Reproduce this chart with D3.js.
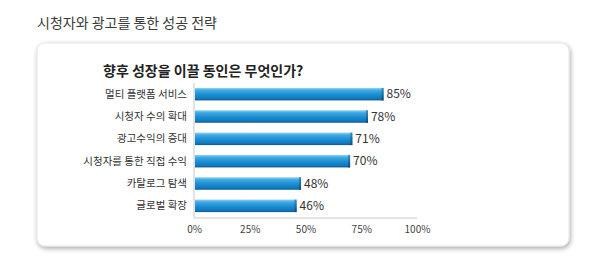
<!DOCTYPE html>
<html><head><meta charset="utf-8">
<script src="https://cdn.jsdelivr.net/npm/d3@7"></script>
<style>
html,body{margin:0;padding:0;background:#fff;}
svg{display:block;}
text{font-family:"Noto Sans CJK KR","Noto Sans",sans-serif;}
</style></head>
<body>
<svg id="chart" width="600" height="270"></svg>
<script>
const categories = ["멀티 플랫폼 서비스","시청자 수의 확대","광고수익의 증대","시청자를 통한 직접 수익","카탈로그 탐색","글로벌 확장"];
const values = [85, 78, 71, 70, 48, 46];
const tickValues = [0, 25, 50, 75, 100];
const pageTitle = "시청자와 광고를 통한 성공 전략";
const chartTitle = "향후 성장을 이끌 동인은 무엇인가?";

const svg = d3.select("#chart");
const defs = svg.append("defs");

const sh = defs.append("filter").attr("id","shadow").attr("x","-5%").attr("y","-10%").attr("width","110%").attr("height","125%");
sh.append("feGaussianBlur").attr("in","SourceAlpha").attr("stdDeviation",2.5);
sh.append("feOffset").attr("dx",1).attr("dy",2).attr("result","b");
sh.append("feComponentTransfer").append("feFuncA").attr("type","linear").attr("slope",0.35);
const mg = sh.append("feMerge");
mg.append("feMergeNode");
mg.append("feMergeNode").attr("in","SourceGraphic");

const grad = defs.append("linearGradient").attr("id","barGrad").attr("x1",0).attr("y1",0).attr("x2",0).attr("y2",1);
[[0,"#8fd3f5"],[0.2,"#3fa9e4"],[0.55,"#1b8dd2"],[0.85,"#1278bd"],[1,"#0b5a92"]].forEach(([o,c])=>grad.append("stop").attr("offset",o).attr("stop-color",c));
const gradR = defs.append("linearGradient").attr("id","capGrad").attr("x1",0).attr("y1",0).attr("x2",0).attr("y2",1);
[[0,"#3d8fc4"],[1,"#0a4a7a"]].forEach(([o,c])=>gradR.append("stop").attr("offset",o).attr("stop-color",c));

// page title
svg.append("text").attr("x",37).attr("y",28).attr("font-size",14).attr("fill","#3a3a3a").text(pageTitle);

// card
svg.append("rect").attr("x",37).attr("y",43).attr("width",532).attr("height",203).attr("rx",8)
  .attr("fill","#fff").attr("stroke","#e6e6e6").attr("stroke-width",1).attr("filter","url(#shadow)");

// chart title
svg.append("text").attr("x",103).attr("y",76).attr("font-size",14).attr("font-weight","bold").attr("fill","#222").text(chartTitle);

const x = d3.scaleLinear().domain([0,100]).range([194,417]);
const y = d3.scaleBand().domain(categories).range([83,217]).paddingInner(0.44).paddingOuter(0.22);

// axes lines
svg.append("line").attr("x1",x(0)).attr("x2",x(0)).attr("y1",83).attr("y2",218).attr("stroke","#c8c8c8");
svg.append("line").attr("x1",x(0)).attr("x2",x(100)).attr("y1",218).attr("y2",218).attr("stroke","#c8c8c8");

// x tick labels
const xAxis = d3.axisBottom(x).tickValues(tickValues).tickFormat(d=>d+"%").tickSize(0).tickPadding(8);
const gx = svg.append("g").attr("transform","translate(0,218)").call(xAxis);
gx.select(".domain").remove();
gx.selectAll("text").attr("font-size",10).attr("fill","#444").attr("font-family","'Liberation Sans',Arial,sans-serif");

// y labels
const yAxis = d3.axisLeft(y).tickSize(0).tickPadding(7);
const gy = svg.append("g").attr("transform",`translate(${x(0)},0)`).call(yAxis);
gy.select(".domain").remove();
gy.selectAll("text").attr("font-size",10.5).attr("fill","#333");

// bars
const bars = svg.append("g").selectAll("g").data(categories).join("g");
bars.append("rect").attr("x",x(0)+1).attr("y",d=>y(d)).attr("width",(d,i)=>x(values[i])-x(0)-1).attr("height",y.bandwidth()).attr("fill","url(#barGrad)");
bars.append("rect").attr("x",(d,i)=>x(values[i])-2).attr("y",d=>y(d)).attr("width",2).attr("height",y.bandwidth()).attr("fill","url(#capGrad)");
bars.append("text").attr("x",(d,i)=>x(values[i])+3).attr("y",d=>y(d)+y.bandwidth()/2).attr("dy","0.36em")
  .attr("font-size",12).attr("fill","#333").attr("font-family","'Liberation Sans',Arial,sans-serif")
  .text((d,i)=>values[i]+"%");
</script>
</body></html>
